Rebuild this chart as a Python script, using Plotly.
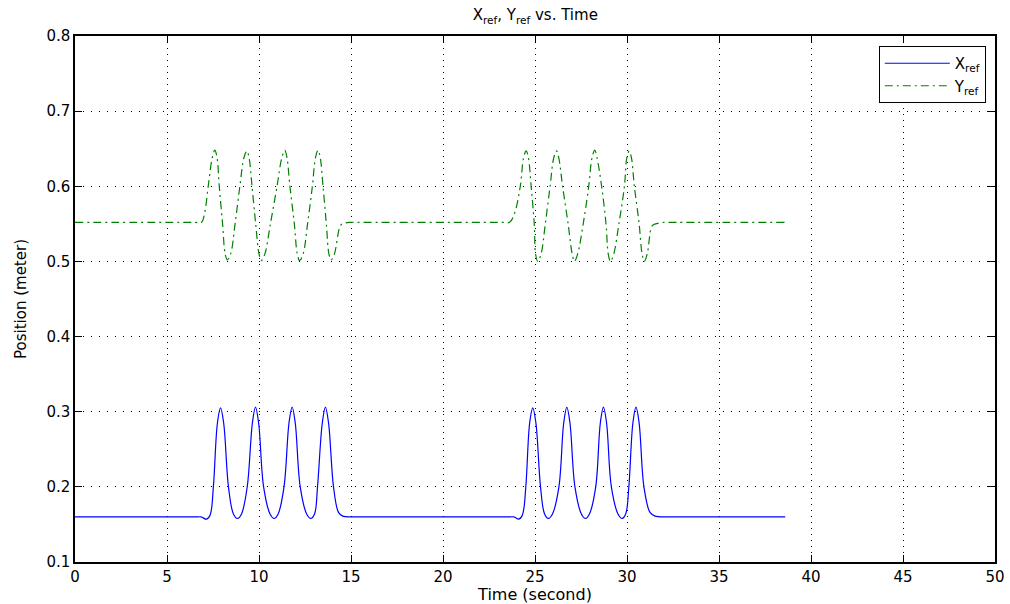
import plotly.graph_objects as go

# Reference trajectory samples (time in seconds, position in meters)
t_x = [0.0, 6.5, 6.85, 7.15, 7.35, 7.52, 7.74, 7.91, 8.08, 8.34, 8.61, 8.83, 9.05,
       9.36, 9.64, 9.81, 9.98, 10.25, 10.60, 10.82, 11.04, 11.36, 11.63, 11.80, 11.97,
       12.24, 12.59, 12.81, 13.02, 13.18, 13.44, 13.61, 13.78, 14.05, 14.32, 14.55, 15.0, 15.4,
       23.5, 23.85, 24.12, 24.32, 24.50, 24.71, 24.88, 25.05, 25.30, 25.52, 25.73, 25.95,
       26.30, 26.56, 26.73, 26.90, 27.17, 27.52, 27.74, 27.96, 28.30, 28.55, 28.72, 28.89,
       29.15, 29.51, 29.73, 29.93, 30.10, 30.32, 30.49, 30.66, 30.92, 31.25, 31.53, 32.0, 32.4,
       38.6]
x_ref = [0.160, 0.160, 0.160, 0.157, 0.163, 0.200, 0.285, 0.305, 0.285, 0.200, 0.164, 0.158, 0.164,
         0.200, 0.285, 0.306, 0.285, 0.200, 0.164, 0.158, 0.164, 0.200, 0.285, 0.306, 0.285,
         0.200, 0.164, 0.158, 0.164, 0.200, 0.285, 0.306, 0.285, 0.200, 0.166, 0.161, 0.160, 0.160,
         0.160, 0.160, 0.157, 0.163, 0.200, 0.285, 0.305, 0.285, 0.200, 0.164, 0.158, 0.164,
         0.200, 0.285, 0.306, 0.285, 0.200, 0.164, 0.158, 0.164, 0.200, 0.285, 0.306, 0.285,
         0.200, 0.164, 0.158, 0.164, 0.200, 0.285, 0.306, 0.285, 0.200, 0.166, 0.161, 0.160, 0.160,
         0.160]

t_y = [0.0, 6.5, 6.88, 7.05, 7.24, 7.46, 7.60, 7.72, 7.84, 8.02, 8.16, 8.28, 8.46,
       8.70, 8.96, 9.18, 9.34, 9.46, 9.62, 9.82, 10.00, 10.12, 10.32, 10.62, 10.98,
       11.24, 11.40, 11.52, 11.68, 11.92, 12.08, 12.21, 12.40, 12.64, 12.90, 13.07,
       13.21, 13.33, 13.48, 13.66, 13.80, 13.92, 14.10, 14.38, 14.52, 15.0, 15.4,
       23.2, 23.62, 23.90, 24.20, 24.38, 24.52, 24.64, 24.79, 24.96, 25.03, 25.15, 25.33,
       25.56, 25.82, 26.02, 26.17, 26.29, 26.50, 26.80, 27.02, 27.14, 27.32, 27.62, 27.92,
       28.10, 28.25, 28.37, 28.62, 28.86, 28.98, 29.10, 29.28, 29.56, 29.86, 29.99,
       30.12, 30.24, 30.40, 30.66, 30.82, 30.94, 31.10, 31.32, 31.45, 32.0, 32.4, 38.6]
y_ref = [0.552, 0.552, 0.552, 0.565, 0.600, 0.638, 0.648, 0.638, 0.600, 0.550, 0.510, 0.502, 0.510,
         0.550, 0.600, 0.638, 0.647, 0.638, 0.600, 0.550, 0.510, 0.501, 0.510, 0.550, 0.600,
         0.638, 0.648, 0.638, 0.600, 0.550, 0.510, 0.501, 0.510, 0.550, 0.600, 0.638,
         0.648, 0.638, 0.600, 0.550, 0.510, 0.502, 0.510, 0.545, 0.550, 0.552, 0.552,
         0.552, 0.552, 0.565, 0.600, 0.638, 0.647, 0.638, 0.600, 0.550, 0.510, 0.500, 0.510,
         0.550, 0.600, 0.638, 0.647, 0.638, 0.600, 0.550, 0.510, 0.500, 0.510, 0.550, 0.600,
         0.638, 0.648, 0.638, 0.600, 0.550, 0.510, 0.500, 0.510, 0.550, 0.600, 0.638,
         0.647, 0.638, 0.600, 0.550, 0.510, 0.500, 0.510, 0.545, 0.549, 0.552, 0.552, 0.552]

x_ticks = [0, 5, 10, 15, 20, 25, 30, 35, 40, 45, 50]
y_ticks = [0.1, 0.2, 0.3, 0.4, 0.5, 0.6, 0.7, 0.8]

FONT = "DejaVu Sans"

fig = go.Figure()
fig.add_trace(go.Scatter(
    x=t_x, y=x_ref, mode="lines", name="X<sub>ref</sub>",
    line=dict(color="#0000ff", width=1.2, shape="spline", smoothing=1.0),
))
fig.add_trace(go.Scatter(
    x=t_y, y=y_ref, mode="lines", name="Y<sub>ref</sub>",
    line=dict(color="#008000", width=1.2, shape="spline", smoothing=1.0,
              dash="8px,4px,2px,4px"),
))

axis_common = dict(
    showline=True, linecolor="black", linewidth=1.5, mirror="ticks",
    ticks="inside", ticklen=7, tickcolor="black", tickwidth=1,
    showgrid=True, gridcolor="black", gridwidth=1, automargin=False,
    zeroline=False, tickfont=dict(family=FONT, size=15, color="black"),
)

fig.update_xaxes(
    range=[0, 50], tickvals=x_ticks, griddash="1px,5px",
    title=dict(text="Time (second)", font=dict(family=FONT, size=16, color="black"), standoff=0),
    **axis_common,
)
fig.update_yaxes(
    range=[0.1, 0.8], tickvals=y_ticks, tickformat=".1f", griddash="1px,7px",
    title=dict(text="Position (meter)", font=dict(family=FONT, size=15, color="black"), standoff=16),
    **axis_common,
)

fig.update_layout(
    width=1010, height=604,
    margin=dict(l=75, r=15, t=36, b=42),
    paper_bgcolor="white", plot_bgcolor="white",
    title=dict(text="X<sub>ref</sub>, Y<sub>ref</sub> vs. Time",
               font=dict(family=FONT, size=15, color="black"),
               x=0.53, xanchor="center", y=0.975, yanchor="middle"),
    legend=dict(x=0.99, y=0.981, xanchor="right", yanchor="top",
                bgcolor="white", bordercolor="black", borderwidth=1,
                itemwidth=65,
                font=dict(family=FONT, size=15, color="black")),
    showlegend=True,
)

fig.write_html("out.html")
